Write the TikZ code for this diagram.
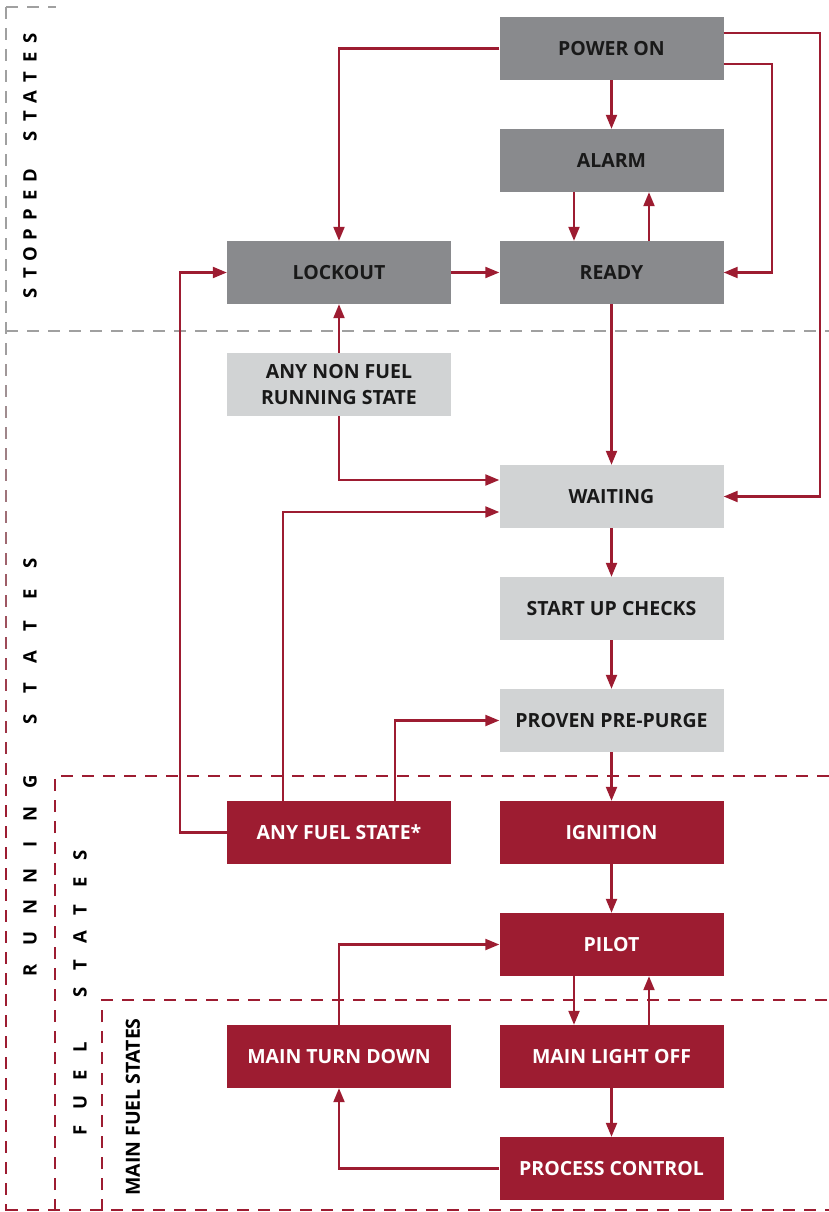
\documentclass[tikz,border=0pt]{standalone}
\usepackage{fontspec}
\setmainfont{Open Sans}
\usetikzlibrary{arrows.meta}
\definecolor{boxred}{RGB}{157,28,49}
\definecolor{boxdark}{RGB}{137,138,141}
\definecolor{boxlight}{RGB}{209,211,212}
\definecolor{dashgray}{RGB}{160,160,160}
\definecolor{txtdark}{RGB}{25,25,25}
\begin{document}
\begin{tikzpicture}[x=1pt,y=-1pt,
  base/.style={minimum width=224pt, minimum height=63pt, inner sep=0pt,
    font=\fontsize{19.5}{26}\selectfont\bfseries, align=center},
  stopbox/.style={base, fill=boxdark, text=txtdark},
  runbox/.style={base, fill=boxlight, text=txtdark},
  fuelbox/.style={base, fill=boxred, text=white},
  conn/.style={draw=boxred, line width=2.2pt, -{Triangle[length=14pt,width=11pt]}},
  gdash/.style={draw=dashgray, line width=2pt, dash pattern=on 12pt off 9pt},
  rdash/.style={draw=boxred, line width=2pt, dash pattern=on 12pt off 9pt},
  vlab/.style={rotate=90, inner sep=0pt, text=black, font=\fontsize{18.5}{18.5}\selectfont\bfseries},
]
\useasboundingbox (0,0) rectangle (829,1212);

% region frames
\draw[gdash] (6,7) -- (56,7);
\draw[gdash] (6,331) -- (829,331);
\draw[rdash] (55,1211) -- (55,776) -- (829,776);
\draw[rdash] (102,1211) -- (102,1000) -- (829,1000);
\draw[rdash] (6,1210) -- (829,1210);
\foreach \yy in {7,28,...,1204}{
  \pgfmathtruncatemacro\f{max(0,min(100,(\yy-331)/4.7))}
  \draw[line width=2pt, draw=boxred!\f!dashgray] (6,\yy) -- (6,{min(\yy+12,1211)});
}

% region labels
\foreach \c [count=\i from 0] in {S,T,O,P,P,E,D,{},S,T,A,T,E,S}
  \node[vlab] (ls\i) at (30,{293-\i*19.6}) {\c};
\foreach \c [count=\i from 0] in {R,U,N,N,I,N,G,{},S,T,A,T,E,S}
  \node[vlab] (lr\i) at (30,{970-\i*31.3}) {\c};
\foreach \c [count=\i from 0] in {F,U,E,L,{},S,T,A,T,E,S}
  \node[vlab] (lf\i) at (80,{1130-\i*27.5}) {\c};
\node[vlab, font=\fontsize{19.5}{19.5}\selectfont\bfseries] (lmain) at (133,1107) {MAIN FUEL STATES};

% boxes
\node[stopbox] (pwr)   at (611.5,48.5)  {POWER ON};
\node[stopbox] (alarm) at (611.5,160.5) {ALARM};
\node[stopbox] (ready) at (611.5,272.5) {READY};
\node[stopbox] (lock)  at (339,272.5)   {LOCKOUT};
\node[runbox]  (anynon) at (339,384.5)  {ANY NON FUEL\\RUNNING STATE};
\node[runbox]  (wait)  at (611.5,496.5) {WAITING};
\node[runbox]  (check) at (611.5,608.5) {START UP CHECKS};
\node[runbox]  (purge) at (611.5,720.5) {PROVEN PRE-PURGE};
\node[fuelbox] (anyfuel) at (339,832.5) {ANY FUEL STATE*};
\node[fuelbox] (ign)   at (611.5,832.5) {IGNITION};
\node[fuelbox] (pilot) at (611.5,944.5) {PILOT};
\node[fuelbox] (mtd)   at (339,1056.5)  {MAIN TURN DOWN};
\node[fuelbox] (mlo)   at (611.5,1056.5) {MAIN LIGHT OFF};
\node[fuelbox] (proc)  at (611.5,1168.5) {PROCESS CONTROL};

% connectors
\draw[conn] (pwr.west) -| (lock.north);
\draw[conn] (pwr) -- (alarm);
\draw[conn] ([xshift=-37.5pt]alarm.south) -- ([xshift=-37.5pt]ready.north);
\draw[conn] ([xshift=37.5pt]ready.north) -- ([xshift=37.5pt]alarm.south);
\draw[conn] ([yshift=15.5pt]pwr.east) -- ++(96,0) |- (wait.east);
\draw[conn] ([yshift=-15.5pt]pwr.east) -- ++(48,0) |- (ready.east);
\draw[conn] (lock) -- (ready);
\draw[conn] (anynon) -- (lock);
\draw[conn] (anynon.south) |- ([yshift=16.5pt]wait.west);
\draw[conn] (ready) -- (wait);
\draw[conn] (anyfuel.west) -- ++(-47,0) |- (lock.west);
\draw[conn] ([xshift=-56pt]anyfuel.north) |- ([yshift=-15.5pt]wait.west);
\draw[conn] ([xshift=56pt]anyfuel.north) |- (purge.west);
\draw[conn] (wait) -- (check);
\draw[conn] (check) -- (purge);
\draw[conn] (purge) -- (ign);
\draw[conn] (ign) -- (pilot);
\draw[conn] ([xshift=-37.5pt]pilot.south) -- ([xshift=-37.5pt]mlo.north);
\draw[conn] ([xshift=37.5pt]mlo.north) -- ([xshift=37.5pt]pilot.south);
\draw[conn] (mlo) -- (proc);
\draw[conn] (proc.west) -| (mtd.south);
\draw[conn] (mtd.north) |- (pilot.west);
\end{tikzpicture}
\end{document}
